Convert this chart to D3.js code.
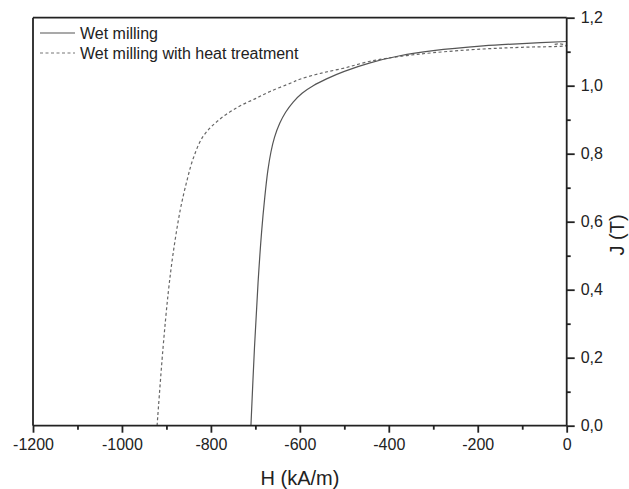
<!DOCTYPE html>
<html><head><meta charset="utf-8">
<script src="https://cdn.jsdelivr.net/npm/d3@7"></script>
<style>body{margin:0;background:#fff}svg{display:block}text{font-family:"Liberation Sans",Arial,sans-serif;fill:#222}</style>
</head><body><svg id="c" width="629" height="489"></svg>
<script>
const seriesNames = ["Wet milling", "Wet milling with heat treatment"];
const wetH = [-710,-702,-694,-686,-679,-672,-665,-657,-645,-632,-615,-595,-570,-540,-500,-442,-375,-300,-188,-100,0];
const wetJ = [0.0,0.23,0.42,0.57,0.67,0.75,0.805,0.848,0.89,0.922,0.952,0.978,1.0,1.02,1.042,1.067,1.088,1.103,1.117,1.124,1.13];
const heatH = [-921,-908,-896,-885,-869,-854,-840,-818,-786,-741,-700,-667,-620,-600,-555,-500,-442,-375,-300,-188,-100,0,-15,-30];
const heatJ = [0.0,0.223,0.39,0.506,0.634,0.72,0.785,0.85,0.895,0.936,0.962,0.983,1.008,1.019,1.036,1.052,1.072,1.086,1.097,1.108,1.113,1.118,1.123,1.121];
const xMajor = [-1200,-1000,-800,-600,-400,-200,0];
const xMinor = [-1100,-900,-700,-500,-300,-100];
const yMajor = [0,0.2,0.4,0.6,0.8,1.0,1.2];
const yMinor = [0.1,0.3,0.5,0.7,0.9,1.1];

const svg = d3.select("#c");
const L=33, R=566.7, T=17.7, B=425.7;
const x = d3.scaleLinear().domain([-1200,0]).range([L,R]);
const y = d3.scaleLinear().domain([0,1.2]).range([B,T]);
const fmtY = v => d3.format(".1f")(v).replace(".", ",");
const fmtX = v => String(v);

const line = d3.line().x(d=>x(d[0])).y(d=>y(d[1])).curve(d3.curveCatmullRom.alpha(0.5));
const wet = wetH.map((h,i)=>[h,wetJ[i]]);
const heat = heatH.map((h,i)=>[h,heatJ[i]]);

svg.append("path").datum(heat).attr("d",line).attr("fill","none")
  .attr("stroke","#666").attr("stroke-width",1.2).attr("stroke-dasharray","3,2.5");
svg.append("path").datum(wet).attr("d",line).attr("fill","none")
  .attr("stroke","#555").attr("stroke-width",1.2);

// frame top & left
svg.append("line").attr("x1",L).attr("x2",R).attr("y1",T).attr("y2",T).attr("stroke","#222").attr("stroke-width",1.8);
svg.append("line").attr("x1",L).attr("x2",L).attr("y1",T).attr("y2",B).attr("stroke","#222").attr("stroke-width",1.8);

// bottom axis
const xa = svg.append("g").attr("transform",`translate(0,${B})`)
  .call(d3.axisBottom(x).tickValues(xMajor).tickSize(7).tickPadding(6).tickFormat(fmtX));
svg.append("g").attr("transform",`translate(0,${B})`)
  .call(d3.axisBottom(x).tickValues(xMinor).tickSize(4).tickFormat(""))
  .call(g=>g.select(".domain").remove());
// right axis
const ya = svg.append("g").attr("transform",`translate(${R},0)`)
  .call(d3.axisRight(y).tickValues(yMajor).tickSize(8).tickPadding(6).tickFormat(fmtY));
svg.append("g").attr("transform",`translate(${R},0)`)
  .call(d3.axisRight(y).tickValues(yMinor).tickSize(4).tickFormat(""))
  .call(g=>g.select(".domain").remove());

svg.selectAll(".tick line").attr("stroke","#222").attr("stroke-width",1.8);
svg.selectAll(".domain").attr("stroke","#222").attr("stroke-width",1.8);
svg.selectAll(".tick text").attr("font-size",16).attr("font-family","'Liberation Sans',Arial,sans-serif").attr("fill","#333");
xa.selectAll(".domain").attr("d",`M${L},0H${R}`);
ya.selectAll(".domain").attr("d",`M0,${T}V${B}`);

// axis titles
svg.append("text").attr("x",300).attr("y",485).attr("text-anchor","middle").attr("font-size",20).text("H (kA/m)");
svg.append("text").attr("transform","translate(624,235) rotate(-90)").attr("text-anchor","middle").attr("font-size",20).text("J (T)");

// legend
const leg = svg.append("g");
[[0,null,"#555"],[1,"3,2.5","#777"]].forEach(([i,dash,col])=>{
  const yy = 33 + i*20;
  const l = leg.append("line").attr("x1",40).attr("x2",75).attr("y1",yy).attr("y2",yy).attr("stroke",col).attr("stroke-width",1.2);
  if (dash) l.attr("stroke-dasharray",dash);
  leg.append("text").attr("x",80).attr("y",yy+5.5).attr("font-size",16).attr("fill","#333").text(seriesNames[i]);
});
</script></body></html>
